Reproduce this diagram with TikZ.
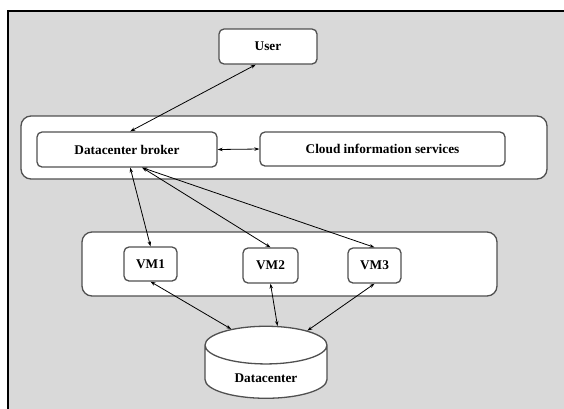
\documentclass[tikz,border=0pt]{standalone}
\usepackage{fontspec}
\setmainfont{Liberation Serif}
\usetikzlibrary{arrows.meta,shapes.geometric}
\definecolor{panelgray}{RGB}{217,217,217}
\definecolor{edgegray}{RGB}{80,80,80}

\begin{document}
\begin{tikzpicture}[x=1pt,y=-1pt,
  box/.style={draw=edgegray, line width=1.3pt, fill=white, rounded corners=5pt, inner sep=0pt,
    font=\fontsize{13.3}{16}\selectfont\bfseries},
  tier/.style={draw=edgegray, line width=1.3pt, fill=white, rounded corners=10pt, inner sep=0pt},
  link/.style={{Stealth[length=5pt,width=3.5pt]}-{Stealth[length=5pt,width=3.5pt]}, line width=0.8pt}]

  \clip (0,0) rectangle (564,408);
  \fill[white] (0,0) rectangle (564,408);
  \draw[fill=panelgray, line width=2pt] (8,11) rectangle (580,420);

  \node[tier, minimum width=526, minimum height=63] at (284,147.5) (cloudtier) {};
  \node[tier, minimum width=415, minimum height=64] at (289.5,264) (vmtier) {};

  \node[box, minimum width=98, minimum height=35] at (268,46.5) (user) {User};
  \node[box, minimum width=180, minimum height=35] at (127,149.5) (broker) {Datacenter broker};
  \node[box, minimum width=245, minimum height=34] at (382.5,149) (cis) {Cloud information services};
  \node[box, minimum width=53, minimum height=34] at (150.5,264) (vm1) {VM1};
  \node[box, minimum width=55, minimum height=35] at (270.5,265.5) (vm2) {VM2};
  \node[box, minimum width=53, minimum height=35] at (374.5,265.5) (vm3) {VM3};
  \node[box, rounded corners=0pt, cylinder, shape border rotate=90, aspect=0.6,
    minimum width=122, minimum height=72] at (266,372)
    (dc) {\raisebox{-6pt}[\height][\depth]{Datacenter}};

  \draw[link] (user.-124) -- (broker.80);
  \draw[link] (broker.east) -- (cis.west);
  \draw[link] (broker.-80) -- (vm1.north);
  \draw[link] (broker.-50) -- (vm2.north);
  \draw[link] (broker.-50) -- (vm3.north);
  \draw[link] (vm1.south) -- (dc.129);
  \draw[link] (vm2.south) -- (dc.76);
  \draw[link] (vm3.south) -- (dc.45);
\end{tikzpicture}
\end{document}
